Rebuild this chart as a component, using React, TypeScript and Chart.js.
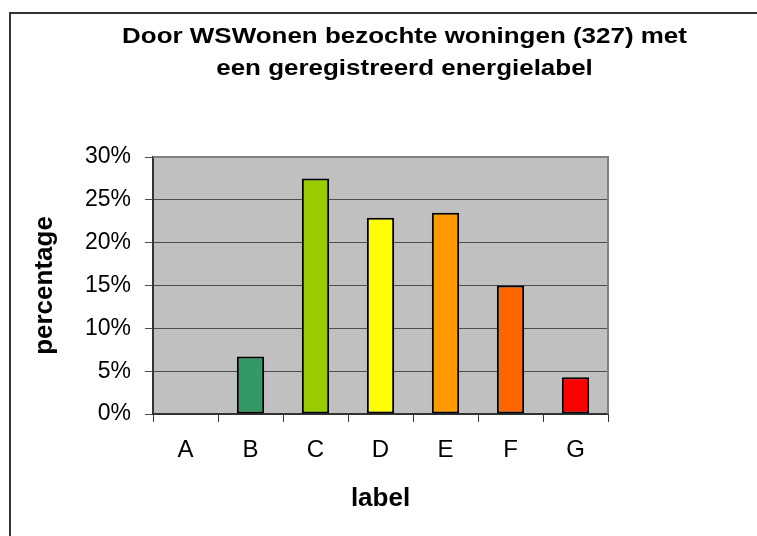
import React, { useEffect, useRef } from "react";
import { Chart, registerables } from "chart.js";

Chart.register(...registerables);

const categories = ["A", "B", "C", "D", "E", "F", "G"];
const percentages = [0, 6.7, 27.5, 22.9, 23.5, 15.0, 4.3];
const barColors = ["#008000", "#339966", "#99CC00", "#FFFF00", "#FF9900", "#FF6600", "#FF0000"];
const titleLines = ["Door WSWonen bezochte woningen (327) met", "een geregistreerd energielabel"];
const xAxisTitle = "label";
const yAxisTitle = "percentage";
const yMin = 0;
const yMax = 30;
const yStep = 5;

const FONT = "'Liberation Sans', Arial, Helvetica, sans-serif";

const framePlugin = {
  id: "frameAndBg",
  beforeDraw(chart: any) {
    const { ctx, chartArea } = chart;
    ctx.save();
    ctx.fillStyle = "#ffffff";
    ctx.fillRect(0, 0, chart.width, chart.height);
    ctx.strokeStyle = "#333333";
    ctx.lineWidth = 2;
    ctx.strokeRect(10, 13, 1000, 1000);
    ctx.fillStyle = "#C0C0C0";
    ctx.fillRect(chartArea.left, chartArea.top, chartArea.right - chartArea.left, chartArea.bottom - chartArea.top);
    ctx.restore();
  },
  afterDraw(chart: any) {
    const { ctx, chartArea } = chart;
    ctx.save();
    ctx.strokeStyle = "#808080";
    ctx.lineWidth = 2;
    ctx.beginPath();
    ctx.moveTo(chartArea.left, chartArea.top);
    ctx.lineTo(chartArea.right, chartArea.top);
    ctx.lineTo(chartArea.right, chartArea.bottom);
    ctx.stroke();
    // title
    ctx.fillStyle = "#000";
    ctx.font = `bold 22px ${FONT}`;
    ctx.textAlign = "center";
    ctx.textBaseline = "alphabetic";
    const cx = (chartArea.left + chartArea.right) / 2 + 24;
    titleLines.forEach((line, i) => {
      ctx.save();
      ctx.translate(cx, 43 + i * 32);
      ctx.scale(1.18, 1);
      ctx.fillText(line, 0, 0);
      ctx.restore();
    });
    ctx.restore();
  },
};

export default function App() {
  const ref = useRef<HTMLCanvasElement | null>(null);
  useEffect(() => {
    if (!ref.current) return;
    const chart = new Chart(ref.current, {
      type: "bar",
      data: {
        labels: categories,
        datasets: [
          {
            data: percentages,
            backgroundColor: barColors,
            borderColor: "#000000",
            borderWidth: 2,
            borderSkipped: false,
            categoryPercentage: 1,
            barPercentage: 0.42,
          },
        ],
      },
      options: {
        responsive: false,
        animation: false,
        devicePixelRatio: 1,
        layout: { padding: { left: 0, top: 157, right: 149, bottom: 0 } },
        plugins: {
          legend: { display: false },
          title: { display: false },
          tooltip: { enabled: false },
        },
        scales: {
          x: {
            afterFit: (s: any) => {
              s.height = 122;
            },
            grid: {
              offset: true,
              drawOnChartArea: false,
              drawTicks: true,
              tickLength: 8,
              color: "#333333",
              lineWidth: 1,
            },
            border: { color: "#333333", width: 2 },
            ticks: { color: "#000", font: { family: FONT, size: 24 }, padding: 14 },
            title: {
              display: true,
              text: xAxisTitle,
              color: "#000",
              font: { family: FONT, size: 26, weight: "bold" },
              padding: { top: 0, bottom: 22 },
            },
          },
          y: {
            min: yMin,
            max: yMax,
            afterFit: (s: any) => {
              s.width = 153;
            },
            grid: {
              color: "#4d4d4d",
              lineWidth: 1,
              drawTicks: true,
              tickLength: 8,
            },
            border: { color: "#333333", width: 2 },
            ticks: {
              stepSize: yStep,
              color: "#000",
              font: { family: FONT, size: 23 },
              padding: 14,
              callback: (v: any) => `${v}%`,
            },
            title: {
              display: true,
              text: yAxisTitle,
              color: "#000",
              font: { family: FONT, size: 26, weight: "bold" },
              padding: { top: 29, bottom: 0 },
            },
          },
        },
      },
      plugins: [framePlugin],
    });
    return () => chart.destroy();
  }, []);
  return (
    <div
      style={{
        position: "fixed",
        left: 0,
        top: 0,
        width: 757,
        height: 536,
        overflow: "hidden",
        background: "#fff",
      }}
    >
      <canvas ref={ref} width={757} height={536} style={{ display: "block" }} />
    </div>
  );
}
